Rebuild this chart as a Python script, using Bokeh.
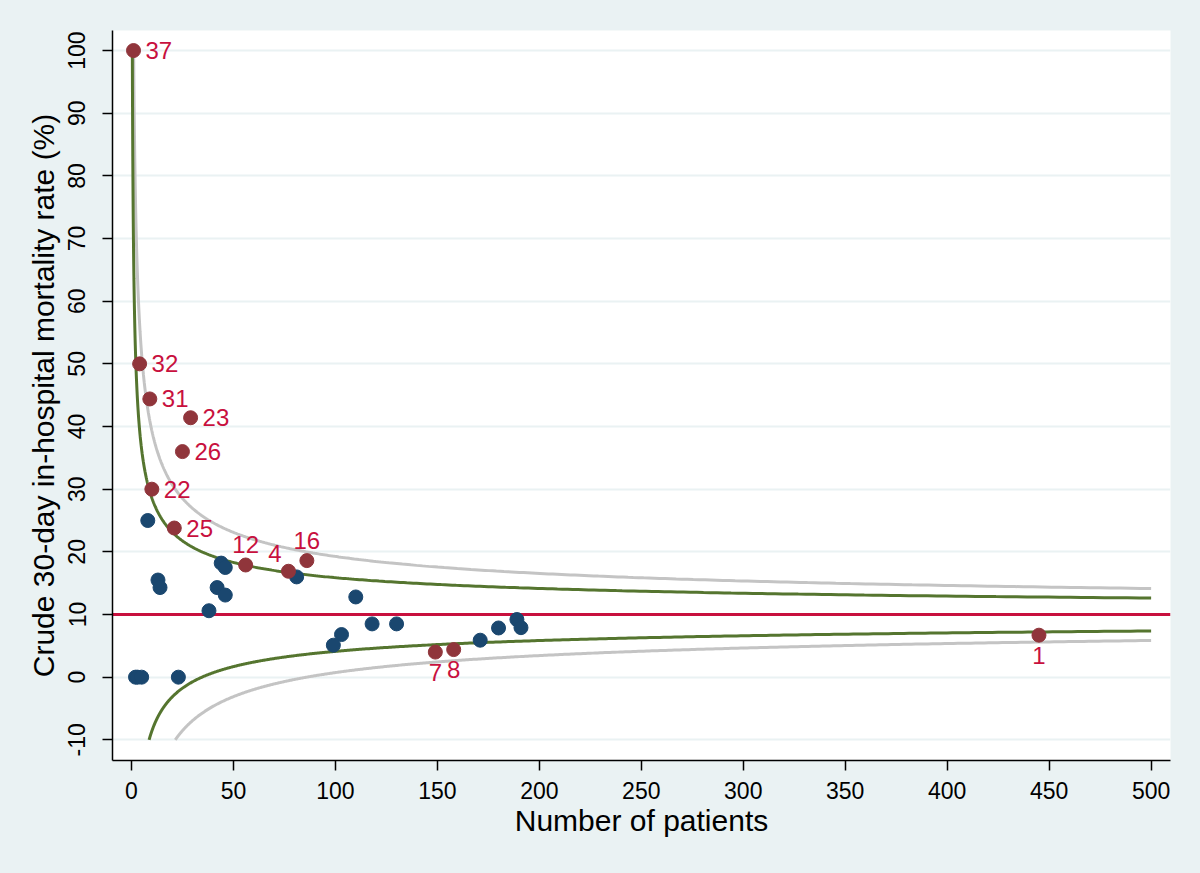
import numpy as np
from bokeh.plotting import figure
from bokeh.models import FixedTicker, Span, ColumnDataSource, Range1d
from bokeh.core.properties import value
from bokeh.embed import file_html
from bokeh.resources import INLINE

# ---- data ----
flag_n = [1, 4, 9, 29, 25, 10, 21, 56, 77, 86, 149, 158, 445]
flag_rate = [100, 50, 44.4, 41.4, 36.0, 30.0, 23.8, 17.9, 16.9, 18.6, 4.0, 4.4, 6.7]
flag_label = ["37", "32", "31", "23", "26", "22", "25", "12", "4", "16", "7", "8", "1"]
flag_pos = ["r", "r", "r", "r", "r", "r", "r", "t", "tl", "t", "b", "b", "b"]

other_n = [8, 13, 14, 44, 46, 42, 46, 38, 81, 110, 118, 130, 99, 103, 171, 180, 189, 191, 2, 3, 5, 23]
other_rate = [25.0, 15.5, 14.3, 18.2, 17.5, 14.3, 13.1, 10.6, 16.0, 12.8, 8.5, 8.5, 5.1, 6.8,
              5.9, 7.85, 9.2, 7.9, 0, 0, 0, 0]

target_rate = 10.0          # overall mortality (%) - red reference line
z_inner = 1.96              # 95% limits (green)
z_outer = 3.09              # 99.8% limits (grey)
n_max = 500

x_ticks = [0, 50, 100, 150, 200, 250, 300, 350, 400, 450, 500]
y_ticks = [-10, 0, 10, 20, 30, 40, 50, 60, 70, 80, 90, 100]
y_tick_labels = {t: str(t) for t in y_ticks}

x_title = "Number of patients"
y_title = "Crude 30-day in-hospital mortality rate (%)"

# ---- colours / fonts ----
BG = "#EAF2F3"
NAVY = "#1A476F"
MAROON = "#90353B"
CRIMSON = "#C8103E"
GREEN = "#55752F"
GREY = "#C4C4C4"
FONT = "Liberation Sans"


def funnel(z, upper):
    p = target_rate / 100.0
    k = z * 100 * np.sqrt(p * (1 - p))
    if upper:
        n0 = (k / (100 - target_rate)) ** 2
    else:
        n0 = (k / (target_rate + 10)) ** 2
    n = np.geomspace(n0, n_max, 600)
    y = target_rate + (k / np.sqrt(n)) * (1 if upper else -1)
    return n, y


p = figure(width=1200, height=873, output_backend="svg", toolbar_location=None,
           x_range=Range1d(-9.3, 509.5), y_range=Range1d(-13.3, 103.2),
           min_border_left=112, min_border_right=30, min_border_top=30, min_border_bottom=113)
p.background_fill_color = "white"
p.border_fill_color = BG
p.outline_line_color = None

p.xgrid.grid_line_color = None
p.ygrid.grid_line_color = BG
p.ygrid.grid_line_width = 2

for ax in (p.xaxis[0], p.yaxis[0]):
    ax.axis_line_color = "black"
    ax.axis_line_width = 1.5
    ax.major_tick_line_color = "black"
    ax.major_tick_line_width = 1.5
    ax.major_tick_out = 10
    ax.major_tick_in = 0
    ax.minor_tick_line_color = None
    ax.major_label_text_font = FONT
    ax.major_label_text_font_size = "23px"
    ax.major_label_text_color = "black"
    ax.axis_label_text_font = FONT
    ax.axis_label_text_font_size = "30px"
    ax.axis_label_text_font_style = "normal"
    ax.axis_label_text_color = "black"

p.xaxis.ticker = FixedTicker(ticks=x_ticks)
p.yaxis.ticker = FixedTicker(ticks=y_ticks)
p.yaxis.major_label_overrides = y_tick_labels
p.xaxis.axis_label = x_title
p.yaxis.axis_label = y_title
p.yaxis.major_label_orientation = "vertical"
p.xaxis.major_label_standoff = 11
p.xaxis.axis_label_standoff = 2
p.yaxis.major_label_standoff = 17
p.yaxis.axis_label_standoff = 6

# funnel limits
for z, col in ((z_outer, GREY), (z_inner, GREEN)):
    for up in (True, False):
        n, y = funnel(z, up)
        p.line(n, y, line_color=col, line_width=3)

p.add_layout(Span(location=target_rate, dimension="width", line_color=CRIMSON,
                  line_width=2.8, level="underlay"))

# points
p.scatter(other_n, other_rate, size=14, fill_color=NAVY, line_color=NAVY)
p.scatter(flag_n, flag_rate, size=14, fill_color=MAROON, line_color=MAROON)

# labels
offsets = {
    "r": dict(x_offset=12, y_offset=0, text_align="left", text_baseline="middle"),
    "t": dict(x_offset=0, y_offset=-20, text_align="center", text_baseline="alphabetic"),
    "tl": dict(x_offset=-7, y_offset=-18, text_align="right", text_baseline="alphabetic"),
    "b": dict(x_offset=0, y_offset=20, text_align="center", text_baseline="alphabetic"),
}
for pos, opts in offsets.items():
    idx = [i for i, q in enumerate(flag_pos) if q == pos]
    src = ColumnDataSource(dict(x=[flag_n[i] for i in idx], y=[flag_rate[i] for i in idx],
                                t=[flag_label[i] for i in idx]))
    p.text("x", "y", text="t", source=src, text_color=CRIMSON, text_font=value(FONT),
           text_font_size="24px", **opts)

html = file_html(p, INLINE)
html = html.replace("</head>", "<style>html,body{background:#EAF2F3;}</style></head>", 1)
open("out.html", "w").write(html)
